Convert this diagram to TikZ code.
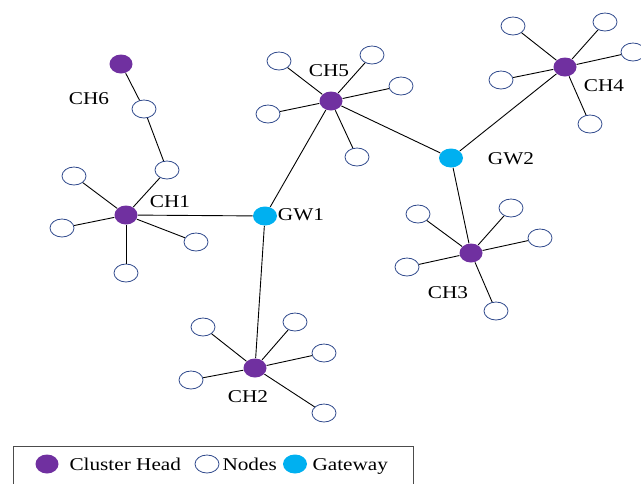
\documentclass[tikz,border=0pt]{standalone}
\usepackage{fontspec}
\setmainfont{Liberation Serif}
\usetikzlibrary{positioning,shapes}
\definecolor{chpurple}{RGB}{112,48,160}
\definecolor{gwcyan}{RGB}{0,176,240}
\definecolor{nodeblue}{RGB}{47,73,140}

\begin{document}
\begin{tikzpicture}[x=1pt,y=-1pt,line width=0.9pt,
head node/.style={ellipse,fill=chpurple,minimum width=23pt,minimum height=19pt,inner sep=0pt},
plain node/.style={ellipse,draw=nodeblue,fill=white,line width=0.8pt,minimum width=24pt,minimum height=18pt,inner sep=0pt},
gate node/.style={ellipse,fill=gwcyan,minimum width=24pt,minimum height=19pt,inner sep=0pt},
lbl/.style={font=\fontsize{18}{20}\selectfont,xscale=1.18,transform shape,inner sep=0pt}]
\useasboundingbox (0,0) rectangle (641,483);
\clip (0,0) rectangle (641,483);
\begin{scope}
% cluster heads and gateways
\node[head node] (ch1) at (126,215) {};
\node[head node] (ch2) at (255,368) {};
\node[head node] (ch3) at (471,253) {};
\node[head node] (ch4) at (565,67) {};
\node[head node] (ch5) at (331,101) {};
\node[head node] (ch6) at (121,64) {};
\node[gate node] (gw1) at (265,216) {};
\node[gate node] (gw2) at (451,158) {};
% ordinary nodes
\node[plain node] (n6a) at (144,109) {};
\node[plain node] (n6b) at (167,170) {};
\node[plain node] (n1a) at (74,176) {};
\node[plain node] (n1b) at (62,228) {};
\node[plain node] (n1c) at (196,242) {};
\node[plain node] (n1d) at (126,273) {};
\node[plain node] (n5a) at (279,61) {};
\node[plain node] (n5b) at (372,55) {};
\node[plain node] (n5c) at (401,86) {};
\node[plain node] (n5d) at (268,114) {};
\node[plain node] (n5e) at (357,157) {};
\node[plain node] (n4a) at (513,26) {};
\node[plain node] (n4b) at (605,22) {};
\node[plain node] (n4c) at (633,52) {};
\node[plain node] (n4d) at (501,80) {};
\node[plain node] (n4e) at (590,124) {};
\node[plain node] (n3a) at (418,214) {};
\node[plain node] (n3b) at (511,208) {};
\node[plain node] (n3c) at (540,238) {};
\node[plain node] (n3d) at (407,267) {};
\node[plain node] (n3e) at (496,311) {};
\node[plain node] (n2a) at (203,327) {};
\node[plain node] (n2b) at (295,322) {};
\node[plain node] (n2c) at (324,353) {};
\node[plain node] (n2d) at (191,380) {};
\node[plain node] (n2e) at (324,413) {};
\end{scope}
\begin{scope}[every node/.style={lbl}]
\node (lch1) at (170,202) {CH1};
\node (lch2) at (248,397) {CH2};
\node (lch3) at (448,293) {CH3};
\node (lch4) at (604,86) {CH4};
\node (lch5) at (329,71) {CH5};
\node (lch6) at (89,99) {CH6};
\node (lgw1) at (301,215) {GW1};
\node (lgw2) at (511,159) {GW2};
\end{scope}
\begin{scope}
\draw[black] (ch6) edge (n6a) (n6a) edge (n6b) (n6b) edge (ch1);
\draw[black] (ch1) edge (n1a) (ch1) edge (n1b) (ch1) edge (n1c) (ch1) edge (n1d) (ch1) edge (gw1);
\draw[black] (gw1) edge (ch2) (gw1) edge (ch5);
\draw[black] (ch2) edge (n2a) (ch2) edge (n2b) (ch2) edge (n2c) (ch2) edge (n2d) (ch2) edge (n2e);
\draw[black] (ch5) edge (n5a) (ch5) edge (n5b) (ch5) edge (n5c) (ch5) edge (n5d) (ch5) edge (n5e) (ch5) edge (gw2);
\draw[black] (gw2) edge (ch4) (gw2) edge (ch3);
\draw[black] (ch4) edge (n4a) (ch4) edge (n4b) (ch4) edge (n4c) (ch4) edge (n4d) (ch4) edge (n4e);
\draw[black] (ch3) edge (n3a) (ch3) edge (n3b) (ch3) edge (n3c) (ch3) edge (n3d) (ch3) edge (n3e);
\end{scope}
% legend
\node[draw=black!70,line width=0.8pt,minimum width=400pt,minimum height=45pt,anchor=north west] (legend) at (13,446) {};
\node[head node] (kch) at (47,464) {};
\node[lbl,anchor=base west] (kchtxt) at (69,470) {Cluster Head};
\node[plain node] (knd) at (207,464) {};
\node[lbl,anchor=base west] (kndtxt) at (222,470) {Nodes};
\node[gate node] (kgw) at (295,464) {};
\node[lbl,anchor=base west] (kgwtxt) at (312,470) {Gateway};
\end{tikzpicture}
\end{document}
